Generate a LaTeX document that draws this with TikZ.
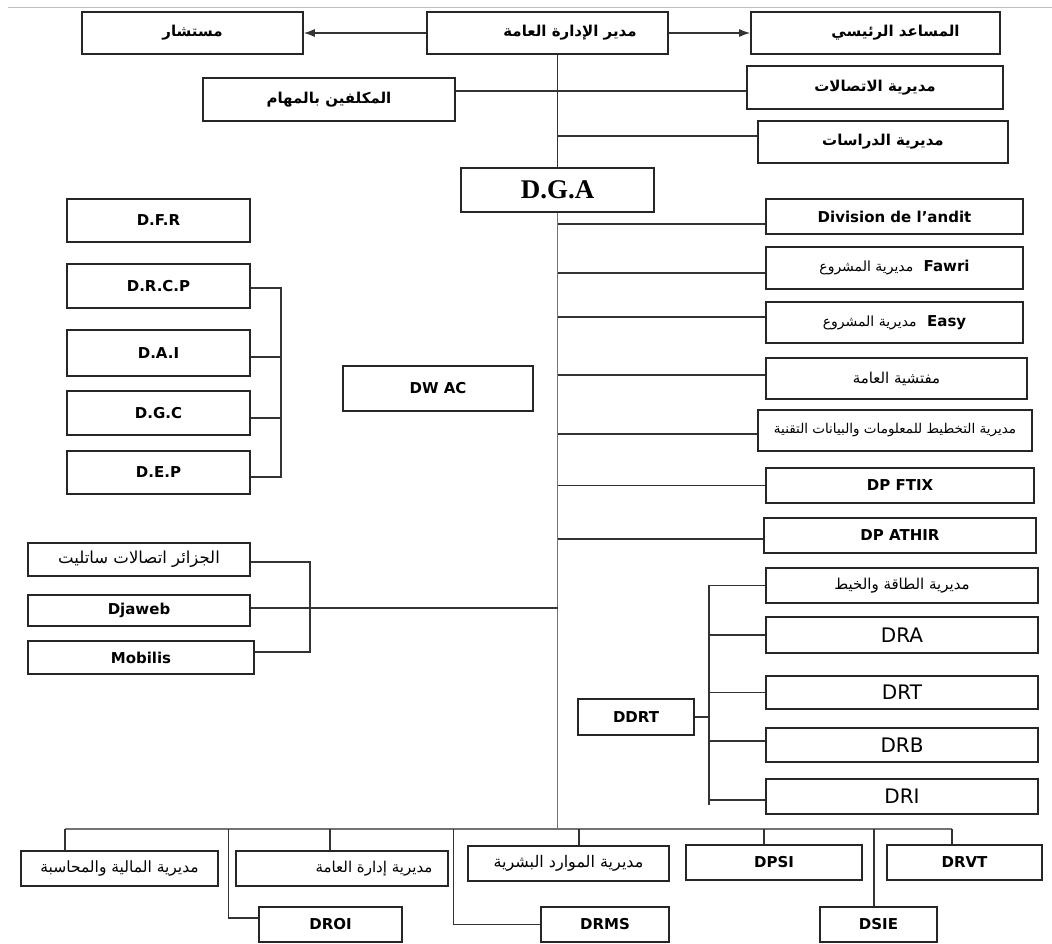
\documentclass[tikz,border=0pt]{standalone}
\usepackage{fontspec}
\setmainfont{DejaVu Sans}
\newfontfamily\arabicfont[Script=Arabic]{DejaVu Sans}
\newfontfamily\serifbf{Liberation Serif}
\usetikzlibrary{arrows.meta}
\TeXXeTstate=1
\newcommand{\artext}[1]{{\arabicfont\mdseries\beginR #1\endR}}
\newcommand{\artextbf}[1]{{\arabicfont\bfseries\beginR #1\endR}}

\begin{document}
\begin{tikzpicture}[x=1pt, y=-1pt,
  box/.style={draw=black!85, line width=1.6pt, inner sep=0pt, font=\fontsize{15}{18}\selectfont\bfseries},
  wh/.style 2 args={minimum width=#1pt, minimum height=#2pt},
  topbox/.style={box, font=\fontsize{15}{18}\selectfont},
  arbox/.style={box, font=\fontsize{15}{18}\selectfont},
  bigbox/.style={box, font=\fontsize{20}{24}\selectfont},
  link/.style={black!80, line width=1.4pt},
  trunk/.style={black!55, line width=1.7pt}]
  \useasboundingbox (0,0) rectangle (1052,943);
  \draw[black!25, line width=1pt] (8,7) -- (1052,7);

  % --- top of the chart ---
  \node[topbox, wh={221}{42}] (mustashar) at (192.5,33) {\artextbf{مستشار}};
  \node[topbox, wh={241}{42}] (mudir) at (547.5,33) {\hspace*{45pt}\artextbf{مدير الإدارة العامة}};
  \node[topbox, wh={249}{42}] (musaid) at (875.5,33) {\hspace*{40pt}\artextbf{المساعد الرئيسي}};
  \node[topbox, wh={252}{43}] (mukallaf) at (329,99.5) {\artextbf{المكلفين بالمهام}};
  \node[topbox, wh={256}{43}] (ittisalat) at (875,87.5) {\artextbf{مديرية الاتصالات}};
  \node[topbox, wh={250}{42}] (dirasat) at (883,142) {\artextbf{مديرية الدراسات}};
  \node[box, wh={193}{44}, font=\serifbf\bfseries\fontsize{27}{30}\selectfont] (dga) at (557.5,190) {D.G.A};
  \draw[link, -{Latex[length=11pt, width=8pt]}] (mudir.west) -- (mustashar.east);
  \draw[link, -{Latex[length=11pt, width=8pt]}] (mudir.east) -- (musaid.west);
  \draw[link] ([yshift=-3.5pt]ittisalat.west) -- ([yshift=-3.5pt]ittisalat.west -| mukallaf.east);
  \draw[link] ([yshift=6pt]dirasat.west) -- ([yshift=6pt]dirasat.west -| dga.north);
  \draw[link] (dga.north) -- (dga.north |- mudir.south);

  % --- main trunk and bottom bus ---
  \coordinate (busL) at (65,829);
  \coordinate (busR) at (952,829);
  \draw[trunk] (dga.south) -- (dga.south |- busL);
  \draw[trunk] (busL) -- (busR);

  % --- right column ---
  \node[box, wh={257}{35}] (andit) at (894.5,216.5) {Division de l’andit};
  \node[box, wh={257}{42}] (fawri) at (894.5,268) {\artext{\fontsize{14}{16}\selectfont مديرية المشروع}\ \ Fawri};
  \node[box, wh={257}{41}] (easy) at (894.5,322.5) {\artext{\fontsize{14}{16}\selectfont مديرية المشروع}\ \ Easy};
  \node[arbox, wh={261}{41}] (mufattish) at (896.5,378.5) {\artext{مفتشية العامة}};
  \node[arbox, wh={274}{41}, font=\fontsize{13.5}{15}\selectfont] (takhtit) at (895,430.5) {\artext{مديرية التخطيط للمعلومات والبيانات التقنية}};
  \node[box, wh={268}{35}] (ftix) at (900,485.5) {DP FTIX};
  \node[box, wh={272}{35}] (athir) at (900,535.5) {DP ATHIR};
  \draw[link] ([yshift=-7.5pt]andit.west) -- ([yshift=-7.5pt]andit.west -| dga.south);
  \draw[link] ([yshift=-5pt]fawri.west) -- ([yshift=-5pt]fawri.west -| dga.south);
  \draw[link] ([yshift=5.5pt]easy.west) -- ([yshift=5.5pt]easy.west -| dga.south);
  \draw[link] ([yshift=3.5pt]mufattish.west) -- ([yshift=3.5pt]mufattish.west -| dga.south);
  \draw[link] ([yshift=-3.5pt]takhtit.west) -- ([yshift=-3.5pt]takhtit.west -| dga.south);
  \draw[link] (ftix.west) -- (ftix.west -| dga.south);
  \draw[link] ([yshift=-3.5pt]athir.west) -- ([yshift=-3.5pt]athir.west -| dga.south);

  % --- DDRT group ---
  \node[arbox, wh={272}{35}] (taqa) at (902,585.5) {\artext{مديرية الطاقة والخيط}};
  \node[bigbox, wh={272}{36}] (dra) at (902,635) {DRA};
  \node[bigbox, wh={272}{33}] (drt) at (902,692.5) {DRT};
  \node[bigbox, wh={272}{34}] (drb) at (902,745) {DRB};
  \node[bigbox, wh={272}{35}] (dri) at (902,796.5) {DRI};
  \node[box, wh={116}{36}] (ddrt) at (636,717) {DDRT};
  \coordinate (ddrtbus) at (709,717);
  \draw[link] (ddrt.east) -- (ddrtbus);
  \draw[link] (taqa.west) -- (taqa.west -| ddrtbus) -- ([yshift=-8.5pt]dri.west -| ddrtbus);
  \draw[link] (dra.west) -- (dra.west -| ddrtbus);
  \draw[link] (drt.west) -- (drt.west -| ddrtbus);
  \draw[link] ([yshift=4pt]drb.west) -- ([yshift=4pt]drb.west -| ddrtbus);
  \draw[link] ([yshift=-3.5pt]dri.west) -- ([yshift=-3.5pt]dri.west -| ddrtbus);

  % --- left column ---
  \node[box, wh={183}{43}] (dfr) at (158.5,220.5) {D.F.R};
  \node[box, wh={183}{44}] (drcp) at (158.5,286) {D.R.C.P};
  \node[box, wh={183}{46}] (dai) at (158.5,353) {D.A.I};
  \node[box, wh={183}{44}] (dgc) at (158.5,413) {D.G.C};
  \node[box, wh={183}{43}] (dep) at (158.5,472.5) {D.E.P};
  \draw[link] ([yshift=-2pt]drcp.east) -- ++(30,0) |- ([yshift=-4.5pt]dep.east);
  \draw[link] ([yshift=-4pt]dai.east) -- ++(30,0);
  \draw[link] ([yshift=-5pt]dgc.east) -- ++(30,0);
  \node[box, wh={190}{45}] (dwac) at (438,388.5) {DW AC};

  % --- left group ---
  \node[arbox, wh={222}{33}, font=\fontsize{16.5}{18}\selectfont] (sat) at (139,559.5) {\artext{الجزائر اتصالات ساتليت}};
  \node[box, wh={222}{31}] (djaweb) at (139,610.5) {Djaweb};
  \node[box, wh={226}{33}] (mobilis) at (141,657.5) {Mobilis};
  \draw[link] ([yshift=-2.5pt]sat.east) -- ++(59,0) |- ([yshift=5.5pt]mobilis.east);
  \draw[link] ([yshift=2.5pt]djaweb.east) -- ([yshift=2.5pt]djaweb.east -| dga.south);

  % --- bottom row ---
  \node[arbox, wh={197}{35}, font=\fontsize{15.5}{18}\selectfont] (maliya) at (119.5,868.5) {\artext{مديرية المالية والمحاسبة}};
  \node[arbox, wh={212}{35}] (idara) at (342,868.5) {\hspace*{64pt}\artext{مديرية إدارة العامة}};
  \node[box, wh={143}{35}] (droi) at (330.5,924.5) {DROI};
  \node[arbox, wh={201}{35}, font=\fontsize{16}{18}\selectfont] (mawarid) at (568.5,863.5) {\artext{مديرية الموارد البشرية}};
  \node[box, wh={128}{35}] (drms) at (605,924.5) {DRMS};
  \node[box, wh={176}{35}] (dpsi) at (774,862.5) {DPSI};
  \node[box, wh={117}{35}] (dsie) at (878.5,924.5) {DSIE};
  \node[box, wh={155}{35}] (drvt) at (964.5,862.5) {DRVT};
  \draw[link] (busL) -- (busL |- maliya.north);
  \draw[link] ([xshift=-12pt]idara.north |- busL) -- ([xshift=-12pt]idara.north);
  \draw[link] ([yshift=6.5pt]droi.west) -| ([xshift=-30pt]droi.west |- busL);
  \draw[link] ([xshift=10.5pt]mawarid.north |- busL) -- ([xshift=10.5pt]mawarid.north);
  \draw[link] (drms.west) -| ([xshift=-87pt]drms.west |- busL);
  \draw[link] ([xshift=-10pt]dpsi.north |- busL) -- ([xshift=-10pt]dpsi.north);
  \draw[link] ([xshift=-4.5pt]dsie.north |- busL) -- ([xshift=-4.5pt]dsie.north);
  \draw[link] ([xshift=-12.5pt]drvt.north |- busL) -- ([xshift=-12.5pt]drvt.north);
\end{tikzpicture}
\end{document}
